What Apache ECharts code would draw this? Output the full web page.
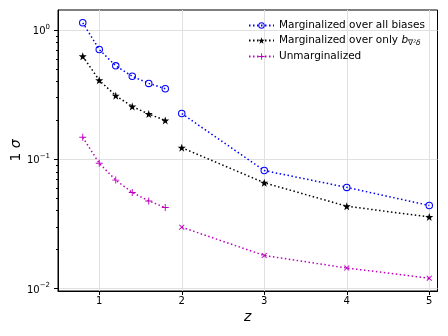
<!DOCTYPE html>
<html>
<head>
<meta charset="utf-8">
<style>
  html, body { margin: 0; padding: 0; background: #fff; }
  #main { width: 448px; height: 336px; }
</style>
<script src="https://cdn.jsdelivr.net/npm/echarts@6/dist/echarts.min.js"></script>
</head>
<body>
<div id="main"></div>
<script>
// redshift bins: narrow ones below z=2, wide ones above
var zLow = [0.8, 1.0, 1.2, 1.4, 1.6, 1.8];
var zHigh = [2, 3, 4, 5];

// 1 sigma errors
var allBiasLow = [1.14, 0.708, 0.529, 0.439, 0.387, 0.352];
var allBiasHigh = [0.226, 0.0818, 0.0606, 0.0439];
var onlyBLow = [0.628, 0.409, 0.311, 0.256, 0.224, 0.200];
var onlyBHigh = [0.123, 0.0658, 0.0433, 0.0358];
var unmargLow = [0.148, 0.0931, 0.069, 0.0554, 0.0476, 0.0423];
var unmargHigh = [0.0298, 0.0180, 0.0144, 0.0120];

var seriesNames = ['allBiases', 'onlyB', 'unmarg'];
var xTicks = [1, 2, 3, 4, 5];
var yTicks = [0.01, 0.1, 1];

(function () {
  var myChart = echarts.init(document.getElementById('main'));
  var font = 'DejaVu Sans';

  // 图形符号
  var ring = 'path://M0,-5A5,5 0 1,1 0,5A5,5 0 1,1 0,-5Z M0,-3.6A3.6,3.6 0 1,0 0,3.6A3.6,3.6 0 1,0 0,-3.6Z';
  var star = 'path://M0,-10L2.35,-3.24L9.51,-3.09L3.8,1.24L5.88,8.09L0,4L-5.88,8.09L-3.8,1.24L-9.51,-3.09L-2.35,-3.24Z';
  var plus = 'path://M-0.8,-6H0.8V-0.8H6V0.8H0.8V6H-0.8V0.8H-6V-0.8H-0.8Z';

  // y 轴范围: 对数空间两端各留 5%
  var allY = [].concat(allBiasLow, allBiasHigh, onlyBLow, onlyBHigh, unmargLow, unmargHigh);
  var lo = Math.log10(Math.min.apply(null, allY));
  var hi = Math.log10(Math.max.apply(null, allY));
  var pad = 0.05 * (hi - lo);
  var yMin = Math.pow(10, lo - pad);
  var yMax = Math.pow(10, hi + pad);

  // 次刻度 2..9 x 10^k
  var minorTicks = [];
  for (var k = -3; k <= 0; k++) {
    for (var m = 2; m <= 9; m++) {
      var v = m * Math.pow(10, k);
      if (v > yMin && v < yMax) minorTicks.push(v);
    }
  }

  function pairs(xs, ys) {
    return xs.map(function (x, i) { return [x, ys[i]]; });
  }

  function line(name, xs, ys, color, symbol, size, rotate) {
    return {
      name: name,
      type: 'line',
      data: pairs(xs, ys),
      symbol: symbol,
      symbolSize: size,
      symbolRotate: rotate || 0,
      showAllSymbol: true,
      lineStyle: { color: color, width: 1.5, type: [1.5, 2.5] },
      itemStyle: { color: color },
      emphasis: { disabled: true },
      silent: true
    };
  }

  var option = {
    animation: false,
    textStyle: { fontFamily: font },
    grid: {
      left: 58,
      right: 10.5,
      top: 10,
      bottom: 45,
      containLabel: false,
      outerBoundsMode: 'none',
      show: true,
      borderColor: '#000',
      borderWidth: 1
    },
    legend: {
      data: seriesNames,
      orient: 'vertical',
      left: 248,
      top: 20,
      padding: 0,
      itemGap: 4,
      itemWidth: 25,
      itemHeight: 8,
      formatter: function (name) {
        if (name === 'allBiases') return '{t|Marginalized over all biases}';
        if (name === 'onlyB') return '{t|Marginalized over only }{i|b}{s|\u2207\u00b2\u03b4}';
        return '{t|Unmarginalized}';
      },
      textStyle: {
        fontFamily: font,
        fontSize: 10.5,
        color: '#000',
        rich: {
          t: { fontFamily: font, fontSize: 10.5, color: '#000', lineHeight: 12 },
          i: { fontFamily: font, fontSize: 10.5, fontStyle: 'italic', color: '#000', lineHeight: 12 },
          s: { fontFamily: font, fontSize: 7.5, fontStyle: 'italic', color: '#000', padding: [5, 0, 0, 0] }
        }
      }
    },
    xAxis: {
      type: 'value',
      min: 0.5,
      max: 5.1,
      name: 'z',
      nameLocation: 'middle',
      nameGap: 19,
      nameMoveOverlap: false,
      nameTextStyle: { fontFamily: font, fontSize: 14, fontStyle: 'italic', color: '#000' },
      axisLine: { show: true, onZero: false, lineStyle: { color: '#000', width: 1 } },
      axisTick: { show: true, length: 4, customValues: xTicks, lineStyle: { color: '#000' } },
      axisLabel: { customValues: xTicks, margin: 5, fontFamily: font, fontSize: 10, color: '#000' },
      splitLine: { show: true, lineStyle: { color: '#e0e0e0', width: 1 } }
    },
    yAxis: [{
      type: 'log',
      logBase: 10,
      min: yMin,
      max: yMax,
      name: '{a|1}{b| \u03c3}',
      nameLocation: 'middle',
      nameGap: 35,
      nameRotate: 90,
      nameMoveOverlap: false,
      nameTextStyle: {
        rich: {
          a: { fontFamily: font, fontSize: 14, color: '#000' },
          b: { fontFamily: font, fontSize: 14, fontStyle: 'italic', color: '#000' }
        }
      },
      axisLine: { show: true, onZero: false, lineStyle: { color: '#000', width: 1 } },
      axisTick: { show: true, length: 4, customValues: yTicks, lineStyle: { color: '#000' } },
      axisLabel: {
        customValues: yTicks,
        margin: 8,
        formatter: function (val) {
          var e = Math.round(Math.log10(val));
          return '{b|10}{e|' + (e < 0 ? '\u2212' + (-e) : e) + '}';
        },
        rich: {
          b: { fontFamily: font, fontSize: 10, color: '#000', padding: [3, 0, 0, 0] },
          e: { fontFamily: font, fontSize: 7, color: '#000', padding: [0, 0, 6, 0] }
        }
      },
      splitLine: { show: true, lineStyle: { color: '#e0e0e0', width: 1 } }
    }, {
      // 只用来画次刻度
      type: 'log',
      logBase: 10,
      min: yMin,
      max: yMax,
      position: 'left',
      axisLine: { show: false },
      axisTick: { show: true, length: 2, customValues: minorTicks, lineStyle: { color: '#000' } },
      axisLabel: { show: false },
      splitLine: { show: false }
    }],
    series: [
      line('allBiases', zLow, allBiasLow, '#0000ff', ring, 7.5),
      line('allBiases', zHigh, allBiasHigh, '#0000ff', ring, 7.5),
      line('onlyB', zLow, onlyBLow, '#000000', star, 8),
      line('onlyB', zHigh, onlyBHigh, '#000000', star, 8),
      line('unmarg', zLow, unmargLow, '#bf00bf', plus, 7),
      line('unmarg', zHigh, unmargHigh, '#bf00bf', plus, 7, 45)
    ]
  };

  myChart.setOption(option);
})();
</script>
</body>
</html>
